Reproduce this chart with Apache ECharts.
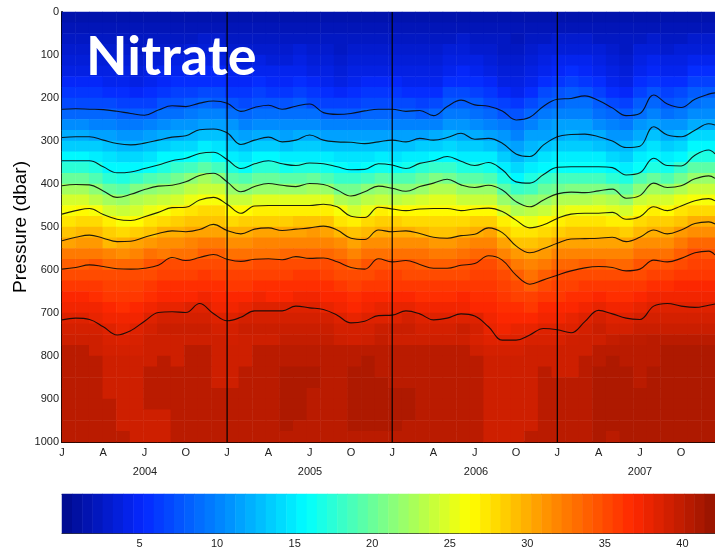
<!DOCTYPE html>
<html><head><meta charset="utf-8">
<style>html,body{margin:0;padding:0;background:#fff}#c{width:715px;height:548px}</style>
<script src="https://cdn.jsdelivr.net/npm/echarts@6/dist/echarts.min.js"></script>
</head><body><div id="c"></div>
<script>
const xTickLabels = ['J','A','J','O','J','A','J','O','J','A','J','O','J','A','J','O'];
const yearLabels = ['2004','2005','2006','2007'];
const yearLineMonths = [12,24,36];
const isolineMonths = [0,1,2,3,4,5,6,7,8,9,10,11,12,13,14,15,16,17,18,19,20,21,22,23,24,25,26,27,28,29,30,31,32,33,34,35,36,37,38,39,40,41,42,43,44,45,46,47,47.46];
const line1 = [226,225,226,227,231,236,240,228,218,220,212,207,212,231,222,217,226,219,214,234,238,236,230,226,226,231,229,241,220,205,216,219,230,251,245,219,203,201,195,206,223,241,236,193,214,222,203,191,188];
const line2 = [292,290,290,298,306,309,305,298,291,288,274,272,281,308,298,291,302,298,286,298,302,303,306,302,298,302,294,298,292,282,296,294,305,330,336,309,290,285,284,290,300,315,312,267,286,290,275,260,263];
const line3 = [346,346,346,360,374,372,364,356,346,340,329,326,343,364,353,346,353,357,351,353,360,367,366,353,356,364,352,346,336,347,357,350,367,395,398,378,361,360,360,360,362,379,374,340,357,358,333,321,330];
const line4 = [404,401,402,416,431,424,413,405,403,395,380,375,395,418,406,399,403,406,399,401,414,428,418,405,410,417,406,398,389,402,408,403,414,441,453,437,423,419,420,416,412,433,427,398,408,404,388,381,387];
const line5 = [470,462,457,471,482,485,476,466,455,454,437,431,447,468,451,450,450,450,450,447,453,475,478,454,458,462,458,457,457,462,458,456,464,484,502,495,480,470,468,468,466,482,476,453,462,451,439,434,439];
const line6 = [532,524,519,526,534,533,524,515,509,511,506,494,508,516,505,502,508,505,502,498,507,526,529,507,511,509,515,524,526,520,517,502,513,544,560,550,538,528,527,526,524,534,524,507,516,507,492,488,493];
const line7 = [598,594,588,592,597,598,596,589,571,578,571,564,575,580,575,574,576,569,573,572,581,594,598,574,581,578,587,596,596,589,585,567,577,612,633,623,612,602,595,592,594,602,598,577,581,573,560,556,565];
const line8 = [716,712,715,732,751,741,719,699,697,699,678,701,718,710,695,695,695,684,688,692,705,723,719,706,705,695,702,716,712,702,707,732,763,763,751,736,739,746,720,694,702,712,715,684,678,684,687,682,679];
const isolines = [line1,line2,line3,line4,line5,line6,line7,line8];

// nitrate by depth row, upper water (12.5 to 187.5 dbar), 48 columns each
const top012 = [1.5,1.5,1.5,1.5,1.5,1.5,1.5,1.5,1.5,1.5,1.5,1.5,1.5,1.5,1.5,1.5,1.5,1.5,1.5,1.5,1.5,1.5,1.5,1.5,1.5,1.5,1.5,1.5,1.5,1.5,1.5,1.5,1.5,1.5,1.5,1.5,1.5,1.5,1.5,1.5,1.5,1.5,1.5,1.5,1.5,1.5,1.5,1.5];
const top037 = [2,2,2,2,2,2,2,2,2,2,2,2,2,2,2,2,2,2,2,2,2,2,2,2,2,2,2,2,2,2,2,2,2,2,2,2,2,2,2,2,2,2,2,2,2,2,2,2];
const top062 = [2.5,2.5,2.5,2.5,2.5,2.5,2.5,2.5,2.5,2.5,3,3,2.5,2.5,2.5,2.5,2.5,2.5,2.5,2.5,2.5,2.5,2.5,2.5,2.5,2.5,2.5,2.5,2.5,3,2.5,2.5,2.5,2,2.5,2.5,3,3,3,2.5,2.5,2.5,2.5,3,2.5,2.5,3,3];
const top087 = [3,3,3,3,3,2.5,3,3,3,3.5,3.5,3.5,3,3,3,3,3,3.5,3,3,2.5,3,3,3,3,3,3,3,3.5,3.5,3,3,2.5,2.5,3,3.5,3.5,3.5,3.5,3.5,3,2.5,3.5,3.5,3,3.5,3.5,3.5];
const top112 = [3.5,3.5,3.5,3.5,3.5,3,3.5,3.5,4,4,4,4,3.5,3.5,4,3.5,3.5,4,3.5,3.5,3,3.5,3.5,3.5,3.5,3.5,3.5,3.5,4,4,4,3.5,3,3,3.5,4,4.5,4.5,4.5,4,3.5,3,4,4.5,4,4,4.5,4.5];
const top137 = [4,4,4,4,4,3.5,4,4.5,4.5,4.5,5,5,4.5,4,4.5,4.5,4.5,4.5,4,4,3.5,4,4,4,4,4,4,4,4.5,5,4.5,4,3.5,3.5,4,4.5,5,5.5,5,4.5,4,3.5,4.5,5,4.5,4.5,5.5,5.5];
const top162 = [5,5,5,4.5,4.5,4,4.5,5,5.5,5.5,5.5,5.5,5,5,5.5,5,5,5.5,5,4.5,4,4.5,5,5,5,4.5,4.5,4.5,5.5,5.5,5.5,5,4,4,4.5,5.5,6,6.5,6,5.5,4.5,4,5.5,6,5.5,5.5,6.5,6.5];
const top187 = [6,6,6,5.5,5.5,5,5.5,6,6.5,6.5,7,7,6,6,6.5,6,6,6.5,6,5.5,5,5.5,6,6,6,5.5,5.5,5.5,7,7,6.5,6,5,4.5,5.5,7,7.5,8,7.5,6.5,5.5,5,6.5,7.5,6.5,7,8,8];
const topWater = [top012,top037,top062,top087,top112,top137,top162,top187];

// nitrate by month column, main gradient (212.5 to 737.5 dbar), 22 rows each
const midWater = [
[7,8.5,10.5,12,13.5,15.5,17.5,20,22.5,24.5,26,27.5,29,30.5,32.5,34,35,36,37,37.5,38.5,39],
[7,8.5,10.5,12,13.5,15.5,17.5,20,22.5,24.5,26.5,28,29.5,31,32.5,34,35,36,37,37.5,38.5,39],
[7,8.5,10,11.5,13.5,15,17,19,21.5,23.5,26,28,29.5,31,32.5,34.5,35,36,36.5,37.5,38,39],
[7,8.5,10,11.5,13,14.5,15.5,17.5,20,22.5,24.5,27,28.5,29.5,32,33.5,35,35.5,36,37,37.5,38.5],
[6.5,8,9.5,11,12.5,14,15.5,17,19.5,22,24,26,28,30,31.5,33.5,35,35.5,36,36.5,37.5,38],
[6.5,8,9.5,11,12.5,14,15.5,18,21,23,24.5,26.5,28.5,30.5,32,33.5,35,35.5,36,37,37.5,38.5],
[6.5,8,10,11.5,13,14.5,16,19,21.5,23.5,25.5,27.5,29,31,33,34.5,35,36,36.5,37.5,38.5,39],
[7.5,9,10.5,12,13.5,15.5,17,19.5,22,24,26,28,30,31.5,32.5,35,35.5,36.5,37,38,39,39.5],
[7.5,9,11,12,14,15.5,18,20.5,22.5,24.5,27,28.5,30,31.5,33,35,35.5,36.5,37,38,39,39.5],
[8,9.5,11,12.5,14,16,18.5,21.5,23.5,25.5,27.5,29,30.5,32,33,35,35.5,36.5,37,38.5,39,39.5],
[8.5,10,11.5,13,15,17,19.5,22.5,24,26,28,29,30.5,32.5,34,35,36,36.5,37.5,38.5,39,39.5],
[8,10,11.5,13,14.5,16,18.5,21.5,24,26,28,29,30.5,32.5,34,35,35.5,36.5,37,37.5,38.5,39],
[7.5,9,11,12,13.5,15,17,19.5,22,24,26.5,28,30,31.5,33,34.5,35.5,36,37,37.5,38.5,39],
[7,8.5,10,11.5,13,14.5,16,19,21.5,24,26.5,28.5,30,31.5,33,34.5,35.5,36,37,38,39,39.5],
[7.5,9,10.5,12,13.5,15.5,17.5,20,22,25,27,28.5,30.5,32,33,35,35.5,36.5,37.5,38.5,39,39.5],
[7.5,9,10.5,12,13.5,15.5,17.5,20,22,25,27,28.5,30.5,32,33,35,35.5,36.5,37,38.5,39,39.5],
[7.5,9,10.5,11.5,13,15,16.5,19.5,22,25,27,28.5,30.5,32,33.5,35,35.5,36.5,37,38.5,39,39.5],
[8,9,10.5,12,13.5,15,17,19.5,22,25,27,29,30.5,32,33.5,35,36,36.5,37.5,38.5,39,39.5],
[7,9,10.5,12,13.5,15,17,20,22.5,25,27,29,31,32,33.5,35,36,36.5,37.5,38.5,39,39.5],
[6.5,8,10,11.5,13,15,16.5,19,22,25,27,29,30.5,32,33.5,35,35.5,36.5,37,38,39,39.5],
[6.5,8,10,11.5,13,14.5,16,18,20.5,23,26,27.5,29.5,31.5,33,34.5,35,36,37,37.5,38.5,39],
[6.5,8,10,11.5,13,14.5,15.5,18,20.5,22.5,24.5,27,29,30.5,32,33.5,35,35.5,36.5,37,38,39],
[7,8.5,10,11.5,13,14.5,16,18.5,21.5,23.5,25.5,28,29.5,31.5,33,34.5,35,36,37,37.5,38.5,39],
[7,8.5,10,11.5,13,15,16.5,19.5,22,24,27,28.5,30,31.5,33,34.5,35.5,36,37,38,38.5,39.5],
[7,8.5,10,11.5,13,14.5,16,19,21.5,23.5,26.5,28.5,30,31.5,33,34.5,35.5,36,37,38,38.5,39.5],
[7,8.5,10,11.5,13,15,16.5,19,21.5,24,26.5,28,30,31.5,33,34.5,35,36,37,38,39,39.5],
[6.5,8,10,11.5,13.5,15,17.5,20,22,24.5,26.5,28,29.5,31.5,33,34,35,36,36.5,37.5,38.5,39],
[7,8.5,10,12,13.5,15.5,18,21,23,25,26.5,28,29,31,32.5,34,35,36,36.5,37.5,38.5,39],
[8,9.5,11,12.5,14,15.5,18,20.5,23,25,26.5,28,29,31,32.5,34,35,36,36.5,37.5,38.5,39],
[8,9.5,11,12,13.5,15,17,19.5,22,24,26.5,28,29.5,31.5,33,34.5,35,36,37,37.5,38.5,39.5],
[8,9,10.5,12,13.5,15,17,19.5,22,24,26.5,28.5,30,32,33.5,35,35.5,36,36.5,37,38.5,39],
[7,8.5,10,11.5,13,15,16.5,19,22,24,26.5,28.5,30.5,32,33.5,35,35.5,36,36.5,37,37.5,38],
[6.5,7.5,9.5,11,12,13.5,15,17,19.5,22,24.5,27,28.5,30.5,32,34,35,35.5,36,36.5,37,37.5],
[6,7.5,9,10,11.5,12.5,14,15.5,18,21,23,26,27.5,29,31,32.5,34,35,35.5,36.5,37,38],
[7,8.5,10,11.5,12.5,13.5,15,17,18.5,21.5,23.5,25.5,27.5,29,30.5,32,33,34,35.5,36,37,38],
[8,9.5,11,11.5,13,14.5,15.5,18,20,22,24,26.5,28,29.5,31,32.5,34,35,36,37,37.5,38.5],
[8.5,10,11.5,12,13.5,15,16,18.5,20.5,23,25,27,28.5,30.5,32,33.5,35,35.5,36,37,37.5,38.5],
[9,10,11.5,12.5,13.5,15,16,18.5,21,23,25.5,27.5,29,30.5,32,33.5,35,35.5,36.5,37,38,38.5],
[9,10,11.5,12,13.5,15,16,18.5,21,23,25.5,27.5,29,30.5,32,34,35,36,36.5,37.5,38.5,39],
[8,9,10.5,12,13,15,16,18.5,21,23.5,25.5,27.5,29,30.5,32,34,35,36,37,38,39,39.5],
[7,8.5,10,11,12.5,14,15.5,17.5,20.5,23,25,27,29,30.5,32,33.5,35,36,36.5,37.5,38.5,39],
[6.5,8,9.5,11,12.5,13.5,15,17,19.5,22,24.5,27,28.5,30.5,32,33.5,35,36,36.5,37.5,38.5,39],
[8,9,11,12,13.5,15,16,19,21.5,24,26,28,29.5,31.5,33,34.5,35,36,37,38,39,39.5],
[8.5,10,11.5,13,14.5,15.5,17,20,22.5,24.5,27,28.5,30,31.5,33,34.5,35.5,36.5,37.5,38.5,39,39.5],
[7.5,9,11,12,13.5,15,16.5,19,22,24.5,26.5,28.5,30,31.5,33,34.5,35.5,36.5,37.5,38.5,39,39.5],
[8,9.5,11,12.5,14,15.5,18,20.5,23,25.5,27.5,29,31,32.5,34,35,36,37,37.5,38.5,39,39.5],
[9,10.5,12,14,15.5,17,19.5,22,24,26,28,30,31.5,33.5,35,35.5,36,37,37.5,38.5,39,39.5],
[9.5,10.5,12,14,15.5,17,19.5,22,24,26,28,30,31.5,33.5,34.5,35.5,36,37,37.5,38.5,39,39.5]
];

// nitrate by depth row, deep water (762.5 to 987.5 dbar), 48 columns each
const deep762 = [39.3,39.3,39.3,38.8,38.6,38.8,39.3,39.3,39.3,39.3,39.3,39.3,39.1,39.3,39.3,39.3,39.8,39.8,39.8,39.8,39.3,39.1,39.3,39.8,39.3,39.3,39.3,39.3,39.3,39.3,38.8,38.4,38.4,38.5,38.8,38.8,38.8,39.2,39.3,39.3,39.8,40.1,40.1,40.3,40.3,40.3,40.3,40.3];
const deep787 = [40.3,40.3,39.3,39,39,39,39.3,39.3,39.3,40.3,40.3,39.3,39.3,39.3,40.3,40.3,40.3,40.3,40.3,40.3,40.3,40.3,40.3,40.3,40.3,40.3,40.3,40.3,40.3,40.3,39.3,39,39,39,39.3,39.3,39.3,39.3,39.3,40.3,40.3,40.3,40.3,40.3,40.9,40.9,40.9,40.9];
const deep812 = [40.3,40.3,40.3,39.3,39.3,39.3,39.3,40.3,39.3,40.3,40.3,39.3,39.3,39.3,40.3,40.3,40.3,40.3,40.3,40.3,40.3,40.3,40.9,40.3,40.3,40.3,40.3,40.3,40.3,40.3,40.3,39.3,39.3,39.3,39.3,39.3,39.3,39.3,40.3,40.3,40.9,40.3,40.3,40.3,40.9,40.9,40.9,40.9];
const deep837 = [40.3,40.3,40.3,39.3,39.3,39.3,40.3,40.3,40.3,40.3,40.3,39.3,39.3,40.3,40.3,40.3,40.9,40.9,40.9,40.3,40.3,40.9,40.9,40.3,40.3,40.3,40.3,40.3,40.3,40.3,40.3,39.3,39.3,39.3,39.3,40.3,39.3,39.3,40.3,40.9,40.9,40.9,40.3,40.9,40.9,40.9,40.9,40.9];
const deep862 = [40.3,40.3,40.3,39.3,39.3,39.3,40.3,40.3,40.3,40.3,40.3,39.3,39.3,40.3,40.3,40.3,40.9,40.9,40.9,40.3,40.3,40.9,40.9,40.9,40.3,40.3,40.3,40.3,40.3,40.3,40.3,39.3,39.3,39.3,39.3,40.3,40.3,40.3,40.3,40.9,40.9,40.9,40.3,40.9,40.9,40.9,40.9,40.9];
const deep887 = [40.3,40.3,40.3,39.3,39.3,39.3,40.3,40.3,40.3,40.3,40.3,40.3,40.3,40.3,40.3,40.3,40.9,40.9,40.3,40.3,40.3,40.9,40.9,40.9,40.9,40.9,40.3,40.3,40.3,40.3,40.3,39.3,39.3,39.3,39.3,40.3,40.3,40.3,40.3,40.9,40.9,40.9,40.9,40.9,40.9,40.9,40.9,40.9];
const deep912 = [40.3,40.3,40.3,40.3,39.3,39.3,40.3,40.3,40.3,40.3,40.3,40.3,40.3,40.3,40.3,40.3,40.9,40.9,40.3,40.3,40.3,40.9,40.9,40.9,40.9,40.9,40.3,40.3,40.3,40.3,40.3,39.3,39.3,39.3,39.3,40.3,40.3,40.3,40.3,40.9,40.9,40.9,40.9,40.9,40.9,40.9,40.9,40.9];
const deep937 = [40.3,40.3,40.3,40.3,39.3,39.3,39.3,39.3,40.3,40.3,40.3,40.3,40.3,40.3,40.3,40.3,40.9,40.9,40.3,40.3,40.3,40.9,40.9,40.9,40.9,40.9,40.3,40.3,40.3,40.3,40.3,39.3,39.3,39.3,39.3,40.3,40.3,40.3,40.3,40.9,40.9,40.9,40.9,40.9,40.9,40.9,40.9,40.9];
const deep962 = [40.3,40.3,40.3,40.3,39.3,39.3,39.3,39.3,40.3,40.3,40.3,40.3,40.3,40.3,40.3,40.3,40.9,40.3,40.3,40.3,40.3,40.9,40.9,40.9,40.9,40.3,40.3,40.3,40.3,40.3,40.3,39.3,39.3,39.3,39.3,40.3,40.3,40.3,40.3,40.9,40.9,40.9,40.9,40.9,40.9,40.9,40.9,40.9];
const deep987 = [40.3,40.3,40.3,40.3,40.3,39.3,39.3,39.3,40.3,40.3,40.3,40.3,40.3,40.3,40.3,40.3,40.3,40.3,40.3,40.3,40.3,40.3,40.3,40.3,40.3,40.3,40.3,40.3,40.3,40.3,40.3,39.3,39.3,39.3,40.3,40.3,40.3,40.3,40.3,40.9,40.3,40.9,40.9,40.9,40.9,40.9,40.9,40.9];
const deepWater = [deep762,deep787,deep812,deep837,deep862,deep887,deep912,deep937,deep962,deep987];

const colorbarBands = [0.33,0.99,1.64,2.3,2.96,3.62,4.28,4.93,5.59,6.25,6.91,7.57,8.22,8.88,9.54,10.2,10.86,11.51,12.17,12.83,13.49,14.15,14.8,15.46,16.12,16.78,17.44,18.09,18.75,19.41,20.07,20.73,21.38,22.04,22.7,23.36,24.02,24.67,25.33,25.99,26.65,27.31,27.96,28.62,29.28,29.94,30.6,31.25,31.91,32.57,33.23,33.89,34.54,35.2,35.86,36.52,37.18,37.83,38.49,39.15,39.81,40.47,41.12,41.78];

const jetStops = ['#000a8c','#0528ff','#008cff','#00ffff','#82ff82','#ffff00','#ff8c00','#ff2800','#961400'];

const heatData = [];
for (let c = 0; c < midWater.length; c++) {
  topWater.forEach((row, r) => heatData.push([c, r, row[c]]));
  midWater[c].forEach((v, r) => heatData.push([c, r + topWater.length, v]));
  deepWater.forEach((row, r) => heatData.push([c, r + topWater.length + midWater[c].length, row[c]]));
}
const rowCats = Array.from({length: topWater.length + midWater[0].length + deepWater.length}, (_, i) => String(i));
const colCats = midWater.map((_, i) => String(i));

const font = 'Liberation Sans';
const txt = {color:'#222', fontSize:11, fontFamily:font};
const axLine = {show:true, lineStyle:{color:'#000', width:2}};
const tick = {show:true, inside:true, length:6, lineStyle:{color:'#000', width:1}};

const series = [
  {type:'heatmap', xAxisIndex:0, yAxisIndex:0, data:heatData, progressive:0, silent:true, itemStyle:{borderWidth:0}, z:1},
  {type:'heatmap', xAxisIndex:3, yAxisIndex:2, data:colorbarBands.map((v,i)=>[i,0,v]), progressive:0, silent:true, z:1}
];
isolines.forEach(l => series.push({
  type:'line', xAxisIndex:1, yAxisIndex:1, smooth:0.4, symbol:'none', silent:true, z:3,
  lineStyle:{color:'#0a0a0a', width:1.1, opacity:0.9},
  data:l.map((d,i)=>[isolineMonths[i], d])
}));
yearLineMonths.forEach(m => series.push({
  type:'line', xAxisIndex:1, yAxisIndex:1, symbol:'none', silent:true, z:4,
  lineStyle:{color:'#000', width:1.2},
  data:[[m,0],[m,1000]]
}));

const chart = echarts.init(document.getElementById('c'), null, {renderer:'canvas'});
chart.setOption({
  animation:false,
  backgroundColor:'#fff',
  grid:[
    {left:62, top:12, width:653, height:430, outerBoundsMode:'none'},
    {left:62, top:494, width:653, height:39, outerBoundsMode:'none'}
  ],
  visualMap:{type:'continuous', show:false, min:0, max:42.1, seriesIndex:[0,1], inRange:{color:jetStops}},
  xAxis:[
    {gridIndex:0, type:'category', data:colCats, show:false},
    {gridIndex:0, type:'value', min:0, max:47.46, interval:3, position:'bottom', splitLine:{show:false},
      axisLine:axLine, axisTick:tick,
      axisLabel:{...txt, margin:5, showMaxLabel:false, showMinLabel:true, hideOverlap:false, formatter:v=>xTickLabels[Math.round(v/3)]||''}},
    {gridIndex:0, type:'value', min:0, max:47.46, interval:3, position:'top', splitLine:{show:false},
      axisLine:{show:true, lineStyle:{color:'#333', width:1}}, axisTick:tick, axisLabel:{show:false}},
    {gridIndex:1, type:'category', data:colorbarBands.map(String), show:false},
    {gridIndex:1, type:'value', min:0, max:42.1, interval:5, position:'bottom', splitLine:{show:false},
      axisLine:{show:true, lineStyle:{color:'#333', width:1}}, axisTick:{...tick, length:5},
      axisLabel:{...txt, margin:5, showMaxLabel:false, showMinLabel:false}},
    {gridIndex:1, type:'value', min:0, max:42.1, interval:5, position:'top', splitLine:{show:false},
      axisLine:{show:true, lineStyle:{color:'#555', width:1}}, axisTick:{...tick, length:5}, axisLabel:{show:false}}
  ],
  yAxis:[
    {gridIndex:0, type:'category', data:rowCats, inverse:true, show:false},
    {gridIndex:0, type:'value', min:0, max:1000, interval:100, inverse:true, position:'left', splitLine:{show:false},
      axisLine:axLine, axisTick:tick, axisLabel:{...txt, margin:3, formatter:v=>String(v)}},
    {gridIndex:1, type:'category', data:['0'], show:false}
  ],
  series,
  graphic:[
    {type:'text', z:100, left:86, top:31, style:{text:'Nitrate', fill:'#fff', font:'bold 54px Lato'}},
    {type:'text', z:100, x:21, y:227, rotation:Math.PI/2,
      style:{text:'Pressure (dbar)', fill:'#000', font:'19px "Liberation Sans"', align:'center', verticalAlign:'middle'}},
    ...yearLabels.map((y,i)=>({type:'text', z:100, x:[145,310,476,640][i], y:472,
      style:{text:y, fill:'#222', font:'11px "Liberation Sans"', align:'center', verticalAlign:'middle'}}))
  ]
});
</script></body></html>
